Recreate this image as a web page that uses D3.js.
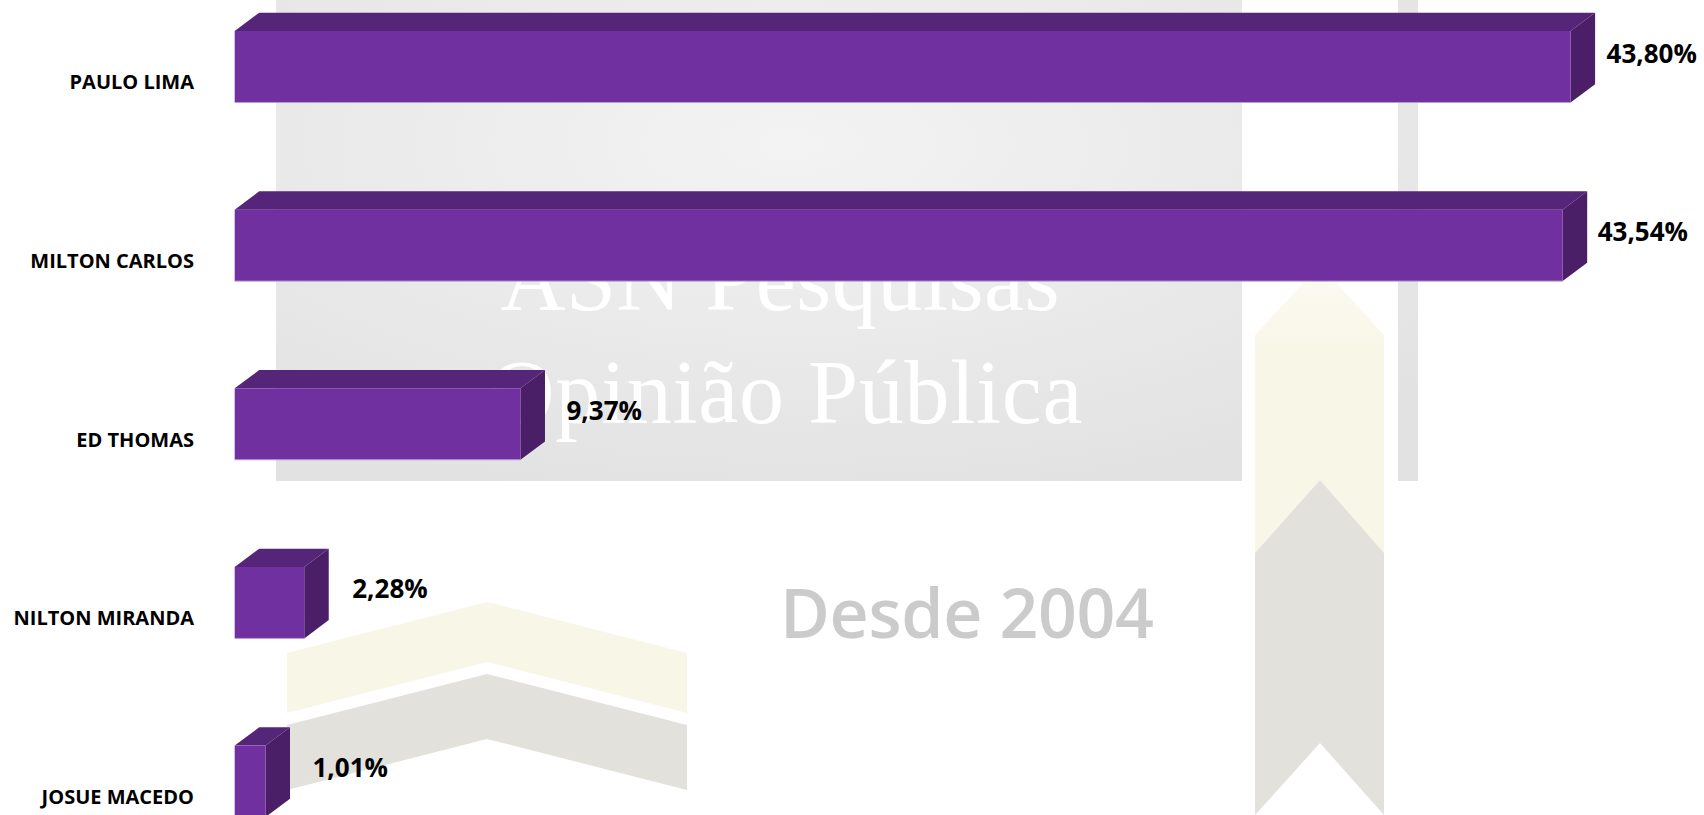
<!DOCTYPE html>
<html>
<head>
<meta charset="utf-8">
<script src="https://cdn.jsdelivr.net/npm/d3@7"></script>
<style>
  body { margin: 0; background: #fff; }
  svg { display: block; }
</style>
</head>
<body>
<div id="chart"></div>
<script>
// data
var categories = ["PAULO LIMA", "MILTON CARLOS", "ED THOMAS", "NILTON MIRANDA", "JOSUE MACEDO"];
var values = [43.80, 43.54, 9.37, 2.28, 1.01];
// data labels were dragged by hand in the original, small x nudges (px)
var labelNudge = [36, 35, 46, 48, 47];

var width = 1704, height = 815;
var depthX = 24.5, depthY = 18.3;

var svg = d3.select("#chart")
    .append("svg")
    .attr("width", width)
    .attr("height", height);

// ---- watermark background ----
var defs = svg.append("defs");
var grad = defs.append("radialGradient")
    .attr("id", "wm")
    .attr("cx", "0.45").attr("cy", "0.3").attr("r", "0.75");
grad.append("stop").attr("offset", "0%").attr("stop-color", "#f3f3f3");
grad.append("stop").attr("offset", "100%").attr("stop-color", "#e2e2e2");

var fade = defs.append("linearGradient")
    .attr("id", "cream")
    .attr("x1", 0).attr("y1", 0).attr("x2", 0).attr("y2", 1);
fade.append("stop").attr("offset", "0%").attr("stop-color", "#fcfbf3");
fade.append("stop").attr("offset", "30%").attr("stop-color", "#f8f6e7");
fade.append("stop").attr("offset", "100%").attr("stop-color", "#f8f6e7");

var bg = svg.append("g").attr("class", "watermark");

bg.append("rect")
    .attr("x", 276).attr("y", 0)
    .attr("width", 1142).attr("height", 481)
    .attr("fill", "url(#wm)");

// white column the ribbon runs through
bg.append("rect")
    .attr("x", 1242).attr("y", 0)
    .attr("width", 156).attr("height", 482)
    .attr("fill", "#fff");

// ribbon (cream on top, grey below)
bg.append("path")
    .attr("d", "M1320,265 L1384,335 L1384,553 L1320,480 L1255,553 L1255,335 Z")
    .attr("fill", "url(#cream)");
bg.append("path")
    .attr("d", "M1320,480 L1384,553 L1384,815 L1320,743 L1255,815 L1255,553 Z")
    .attr("fill", "#e3e1dc");

// chevrons bottom left
bg.append("path")
    .attr("d", "M287,653 L487,602 L687,653 L687,713 L487,662 L287,713 Z")
    .attr("fill", "#f8f6e7");
bg.append("path")
    .attr("d", "M287,725 L487,674 L687,725 L687,790 L487,739 L287,790 Z")
    .attr("fill", "#e3e1dc");

bg.append("text")
    .attr("x", 780).attr("y", 310)
    .attr("text-anchor", "middle")
    .attr("font-family", "Liberation Serif, serif")
    .attr("font-size", 90)
    .attr("textLength", 559)
    .attr("fill", "#ffffff")
    .text("ASN Pesquisas");

bg.append("text")
    .attr("x", 786).attr("y", 423)
    .attr("text-anchor", "middle")
    .attr("font-family", "Liberation Serif, serif")
    .attr("font-size", 90)
    .attr("textLength", 593)
    .attr("fill", "#ffffff")
    .text("Opinião Pública");

bg.append("text")
    .attr("x", 967).attr("y", 638)
    .attr("text-anchor", "middle")
    .attr("font-family", "Open Sans, sans-serif")
    .attr("font-weight", 600)
    .attr("font-size", 68)
    .attr("textLength", 374)
    .attr("fill", "#cbcbcb")
    .text("Desde 2004");

// ---- scales ----
var x = d3.scaleLinear()
    .domain([0, 50])
    .range([234.7, 234.7 + 50 * 30.5]);

var y = d3.scaleBand()
    .domain(categories)
    .range([31, 31 + 178.65 * 4.4])
    .paddingInner(0.6)
    .paddingOuter(0);

var bw = y.bandwidth();

var ptBR = d3.formatLocale({ decimal: ",", thousands: ".", grouping: [3], currency: ["R$", ""] });
var fmt = ptBR.format(".2f");

var rows = categories.map(function (c, i) {
    return { name: c, value: values[i], nudge: labelNudge[i] };
});

var g = svg.append("g").attr("class", "bars");

var bar = g.selectAll("g.bar")
    .data(rows)
    .enter()
    .append("g")
    .attr("class", "bar");

// top face
bar.append("path")
    .attr("fill", "#552579")
    .attr("d", function (d) {
        var x0 = x(0), x1 = x(d.value), yt = y(d.name);
        return "M" + x0 + "," + yt +
            " L" + (x0 + depthX) + "," + (yt - depthY) +
            " L" + (x1 + depthX) + "," + (yt - depthY) +
            " L" + x1 + "," + yt + " Z";
    });

// side face
bar.append("path")
    .attr("fill", "#4a1f68")
    .attr("d", function (d) {
        var x1 = x(d.value), yt = y(d.name);
        return "M" + x1 + "," + yt +
            " L" + (x1 + depthX) + "," + (yt - depthY) +
            " L" + (x1 + depthX) + "," + (yt + bw - depthY) +
            " L" + x1 + "," + (yt + bw) + " Z";
    });

// front face
bar.append("rect")
    .attr("x", x(0))
    .attr("y", function (d) { return y(d.name); })
    .attr("width", function (d) { return x(d.value) - x(0); })
    .attr("height", bw)
    .attr("fill", "#7030a0");

// thin light edge at the bottom of the front
bar.append("line")
    .attr("x1", x(0))
    .attr("x2", function (d) { return x(d.value); })
    .attr("y1", function (d) { return y(d.name) + bw; })
    .attr("y2", function (d) { return y(d.name) + bw; })
    .attr("stroke", "#b79ad3")
    .attr("stroke-width", 1);

// value labels
g.selectAll("text.value")
    .data(rows)
    .enter()
    .append("text")
    .attr("class", "value")
    .attr("x", function (d) { return x(d.value) + d.nudge; })
    .attr("y", function (d) { return y(d.name) + 31.5; })
    .attr("font-family", "Open Sans, sans-serif")
    .attr("font-weight", 700)
    .attr("font-size", 26)
    .attr("fill", "#000")
    .text(function (d) { return fmt(d.value) + "%"; });

// category labels
g.selectAll("text.cat")
    .data(rows)
    .enter()
    .append("text")
    .attr("class", "cat")
    .attr("x", 194)
    .attr("y", function (d) { return y(d.name) + 58.3; })
    .attr("text-anchor", "end")
    .attr("font-family", "Open Sans, sans-serif")
    .attr("font-weight", 700)
    .attr("font-size", 20)
    .attr("fill", "#000")
    .text(function (d) { return d.name; });
</script>
</body>
</html>
